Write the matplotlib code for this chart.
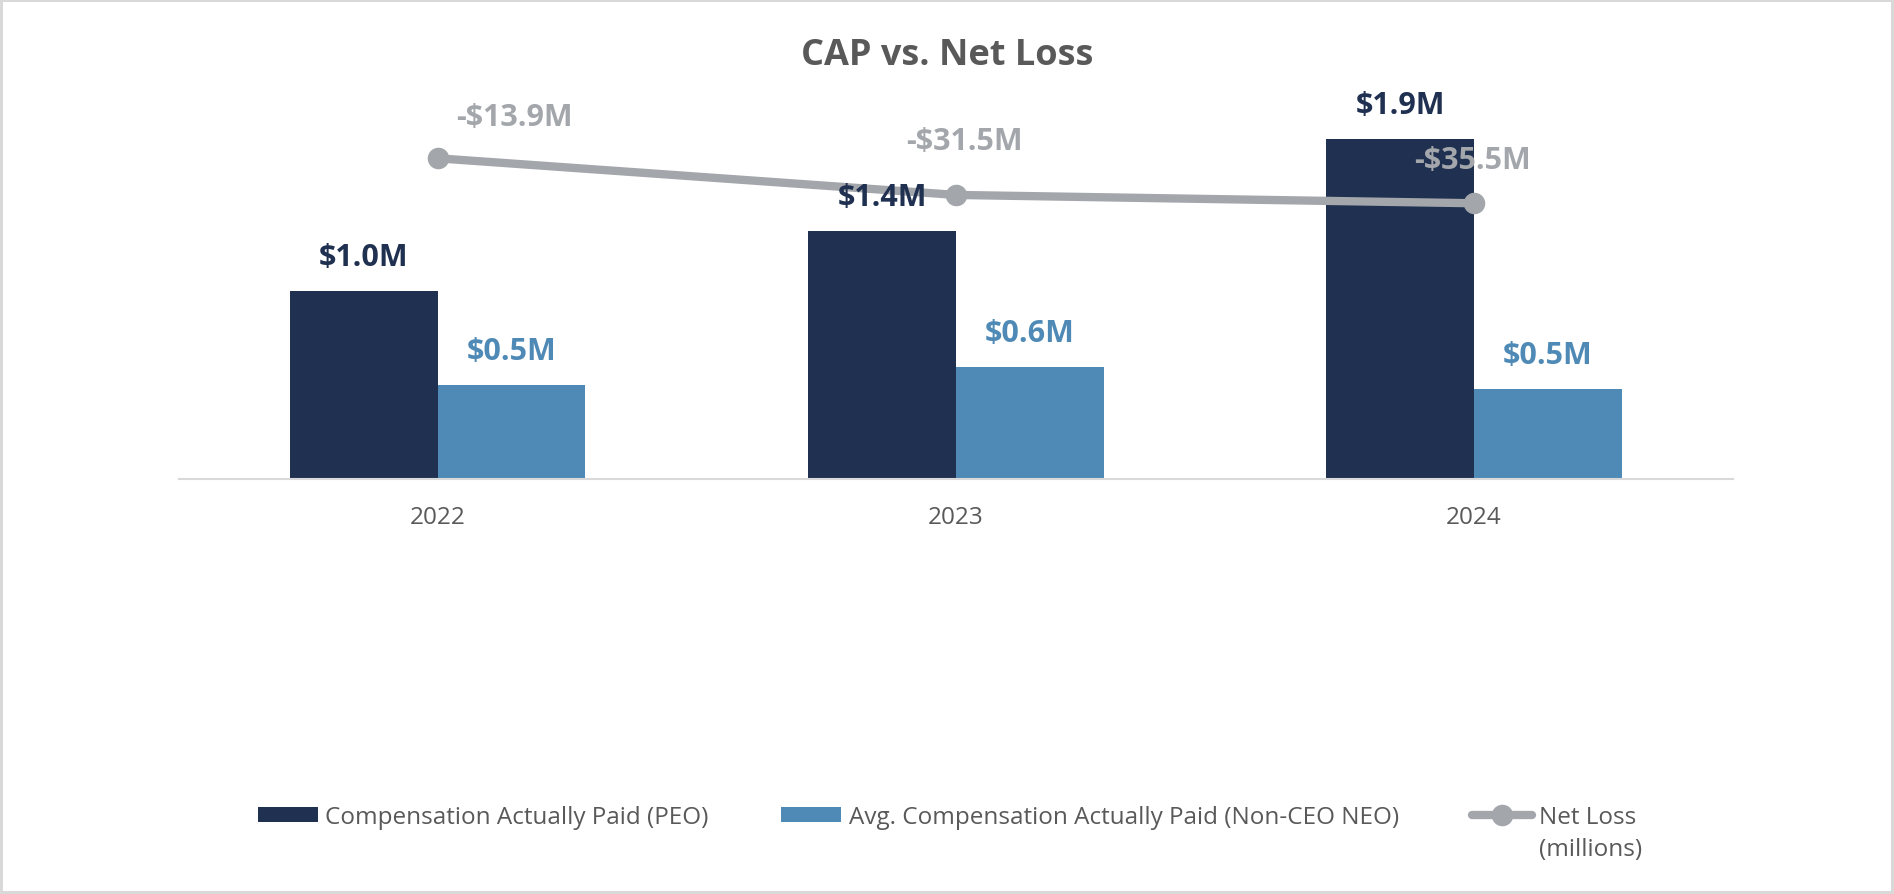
import numpy as np
import matplotlib.pyplot as plt

# DATA (millions)
years = ["2022", "2023", "2024"]
cap_peo = [1.02, 1.35, 1.85]
cap_neo = [0.51, 0.61, 0.49]
net_loss = [-13.9, -31.5, -35.5]
peo_labels = ["$1.0M", "$1.4M", "$1.9M"]
neo_labels = ["$0.5M", "$0.6M", "$0.5M"]
loss_labels = ["-$13.9M", "-$31.5M", "-$35.5M"]

# hand placed label nudges for the net loss labels (points)
loss_offsets = [(55, 30), (6, 39), (-1, 31)]

NAVY = "#1F3050"
BLUE = "#4F8AB6"
GRAY = "#A3A6AB"
TEXT = "#595959"

plt.rcParams["font.family"] = ["Open Sans", "DejaVu Sans"]

fig = plt.figure(figsize=(18.94, 8.95), dpi=100)
fig.patch.set_edgecolor("#D9D9D9")
fig.patch.set_linewidth(3)

ax = fig.add_axes([0.0944, 0.4642, 0.8206, 0.4279])
x = np.arange(len(years))
w = 0.285

b1 = ax.bar(x - w / 2, cap_peo, w, color=NAVY, label="Compensation Actually Paid (PEO)")
b2 = ax.bar(x + w / 2, cap_neo, w, color=BLUE, label="Avg. Compensation Actually Paid (Non-CEO NEO)")

ax.set_xlim(-0.5, 2.5)
ax.set_ylim(0, 2.087)
ax.set_xticks(x)
ax.set_xticklabels(years)
ax.tick_params(axis="x", length=0, pad=19, labelsize=17.5, colors=TEXT)
ax.set_yticks([])
for s in ["top", "left", "right"]:
    ax.spines[s].set_visible(False)
ax.spines["bottom"].set_color("#D9D9D9")
ax.spines["bottom"].set_linewidth(1.5)

# net loss line on second axis
ax2 = ax.twinx()
ln, = ax2.plot(x, net_loss, color=GRAY, lw=6, marker="o", ms=14.5,
               solid_capstyle="round", label="Net Loss")
ax2.set_ylim(-167.8, 16.25)
ax2.set_yticks([])
for s in ["top", "left", "right", "bottom"]:
    ax2.spines[s].set_visible(False)

for xi, v, lab, off in zip(x, net_loss, loss_labels, loss_offsets):
    ax2.annotate(lab, (xi, v), xytext=off, textcoords="offset points",
                 ha="center", va="center", fontsize=22, fontweight="bold", color=GRAY,
                 zorder=5)

# bar labels sit above the line, like the original
for bars, labels, col in [(b1, peo_labels, NAVY), (b2, neo_labels, BLUE)]:
    for rect, lab in zip(bars, labels):
        ax2.annotate(lab, (rect.get_x() + rect.get_width() / 2, rect.get_height()),
                     xycoords=ax.transData, xytext=(0, 24.5), textcoords="offset points",
                     ha="center", va="center", fontsize=22, fontweight="bold", color=col,
                     zorder=6)

# title
fig.text(0.5, 0.9274, "CAP vs. Net Loss", ha="center", va="baseline",
         fontsize=26, fontweight="bold", color=TEXT)

# legend
leg = fig.legend([b1, b2, ln], [b1.get_label(), b2.get_label(), "Net Loss"],
                 loc="center", bbox_to_anchor=(0.5, 0.086), ncol=3, frameon=False,
                 fontsize=17.5, handlelength=2.47, handleheight=0.62, handletextpad=0.3,
                 columnspacing=3.0, labelcolor=TEXT)

# second line of the net loss label
fig.canvas.draw()
bb = leg.get_texts()[2].get_window_extent().transformed(fig.transFigure.inverted())
fig.text(bb.x0, bb.y0 - 0.009, "(millions)", ha="left", va="top",
         fontsize=17.5, color=TEXT)

fig.savefig("out.png", dpi=100)
